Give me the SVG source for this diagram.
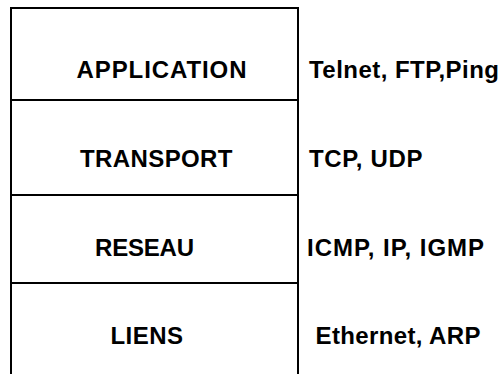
<svg xmlns="http://www.w3.org/2000/svg" width="501" height="374" viewBox="0 0 501 374">
<style>
.layer{fill:#fff;stroke:#000;stroke-width:2}
.t{font-family:"Liberation Sans",Arial,sans-serif;font-weight:bold;font-size:24px;fill:#000}
</style>
<rect x="0" y="0" width="501" height="374" fill="#fff"/>
<g id="application">
<rect class="layer" x="11" y="8" width="287" height="92"/>
<text class="t" x="76.5" y="78" textLength="170">APPLICATION</text>
<text class="t" x="309" y="78" textLength="190">Telnet, FTP,Ping</text>
</g>
<g id="transport">
<rect class="layer" x="11" y="100" width="287" height="95"/>
<text class="t" x="80" y="167" textLength="152.5">TRANSPORT</text>
<text class="t" x="309" y="167" textLength="113.5">TCP, UDP</text>
</g>
<g id="reseau">
<rect class="layer" x="11" y="195" width="287" height="88"/>
<text class="t" x="95" y="256" textLength="99">RESEAU</text>
<text class="t" x="307" y="256" textLength="177">ICMP, IP, IGMP</text>
</g>
<g id="liens">
<rect class="layer" x="11" y="283" width="287" height="100"/>
<text class="t" x="110.5" y="344" textLength="72.5">LIENS</text>
<text class="t" x="315.5" y="344" textLength="165">Ethernet, ARP</text>
</g>
<g id="connectors"></g>
</svg>
